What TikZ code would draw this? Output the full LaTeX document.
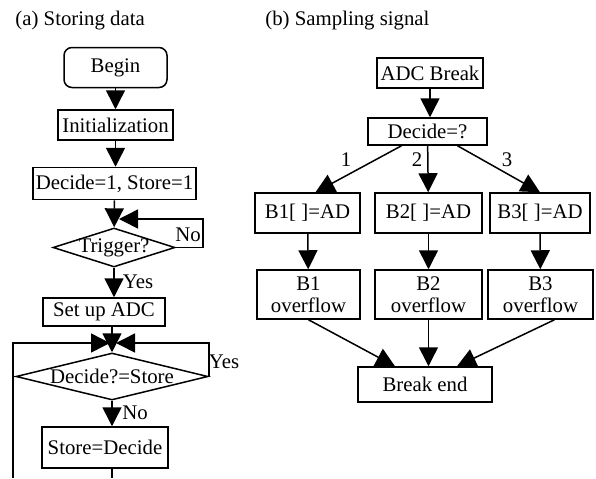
\documentclass[tikz,border=0pt]{standalone}
\usepackage{fontspec}
\setmainfont{Liberation Serif}
\usetikzlibrary{arrows.meta,shapes,positioning}

\begin{document}
\begin{tikzpicture}[x=0.5pt,y=-0.5pt,line width=0.75pt,
  every node/.style={font=\fontsize{10.4}{11}\selectfont},
  box/.style={draw,rectangle,inner sep=1pt,align=center},
  decision/.style={draw,diamond,inner sep=-2pt},
  arr/.style={-{Triangle[length=9.5pt,width=9.5pt]}}]

\useasboundingbox (0,0) rectangle (596,478);

\node[anchor=base west] (ta) at (8,25) {(a) Storing data};
\node[anchor=base west] (tb) at (258,25) {(b) Sampling signal};

% storing data
\node[box,rounded corners=4pt,minimum width=51.5pt,minimum height=20pt] (begin) at (115.5,67.5) {Begin};
\node[box,minimum width=57.5pt,minimum height=15pt] (init) at (115.5,125) {Initialization};
\node[box,minimum width=81.5pt,minimum height=16pt] (setvar) at (114.5,183.5) {Decide=1, Store=1};
\node[decision,shape aspect=3.1,minimum width=61pt,minimum height=19.5pt] (trig) at (114,247.5) {Trigger?};
\node[box,minimum width=61pt,minimum height=14pt] (setup) at (104,312) {Set up ADC};
\node[decision,shape aspect=4.1,minimum width=96pt,minimum height=23.5pt] (cmp) at (112,376.5) {Decide?=Store};
\node[box,minimum width=63pt,minimum height=20.5pt] (store) at (105,447.5) {Store=Decide};

\coordinate (noc) at (203,219);
\coordinate (jn) at (112,343);
\coordinate (loopl) at (13,478);
\coordinate (outb) at (112,478);

\draw[arr] (begin) -- (init);
\draw[arr] (init.south) -- (init.south |- setvar.north);
\draw[arr] (setvar) -- (trig);
\draw[arr] (trig.east) -| (noc) -- ([xshift=2.5pt]trig.north |- noc);
\node (no1) at (188,235) {No};
\draw[arr] (trig.south) -- (trig.south |- setup.north);
\node (yes1) at (138,282) {Yes};
\draw[arr] (cmp.north |- setup.south) -- (cmp.north);
\draw[arr] (loopl) |- ([xshift=-1pt]jn);
\draw[arr] (cmp.east) |- ([xshift=2pt]jn);
\node (yes2) at (224,362) {Yes};
\draw[arr] (cmp.south) -- (cmp.south |- store.north);
\node (no2) at (135,413) {No};
\draw (store.south -| outb) -- (outb);

% sampling signal
\node[box,minimum width=53pt,minimum height=15pt] (adcb) at (430,73) {ADC Break};
\node[box,minimum width=59.5pt,minimum height=13.5pt] (decq) at (427.5,131.5) {Decide=?};
\node[box,minimum width=52.5pt,minimum height=20pt] (b1) at (307.5,213) {B1[ ]=AD};
\node[box,minimum width=53.5pt,minimum height=20pt] (b2) at (428.5,213) {B2[ ]=AD};
\node[box,minimum width=50pt,minimum height=20pt] (b3) at (540,213) {B3[ ]=AD};
\node[box,minimum width=51.5pt,minimum height=24.5pt] (o1) at (308.5,294.5) {B1\\overflow};
\node[box,minimum width=53.5pt,minimum height=24.5pt] (o2) at (428.5,294.5) {B2\\overflow};
\node[box,minimum width=52.5pt,minimum height=24.5pt] (o3) at (540.5,294.5) {B3\\overflow};
\node[box,minimum width=67pt,minimum height=17.5pt] (bend) at (425,384.5) {Break end};

\draw[arr] (adcb.south) -- (adcb.south |- decq.north);
\draw[arr] ([xshift=-13pt]decq.south) -- ([xshift=4pt]b1.north);
\draw[arr] (decq) -- (b2);
\draw[arr] ([xshift=15pt]decq.south) -- (b3.north);
\node (l1) at (346,160) {1};
\node (l2) at (417,160) {2};
\node (l3) at (507,160) {3};

\draw[arr] (b1) -- (o1);
\draw[arr] (b2) -- (o2);
\draw[arr] (b3) -- (o3);
\draw[arr] (o1.south) -- ([xshift=-15pt]bend.north);
\draw[arr] (o2.south) -- (o2.south |- bend.north);
\draw[arr] ([xshift=7pt]o3.south) -- ([xshift=16pt]bend.north);

\end{tikzpicture}
\end{document}
